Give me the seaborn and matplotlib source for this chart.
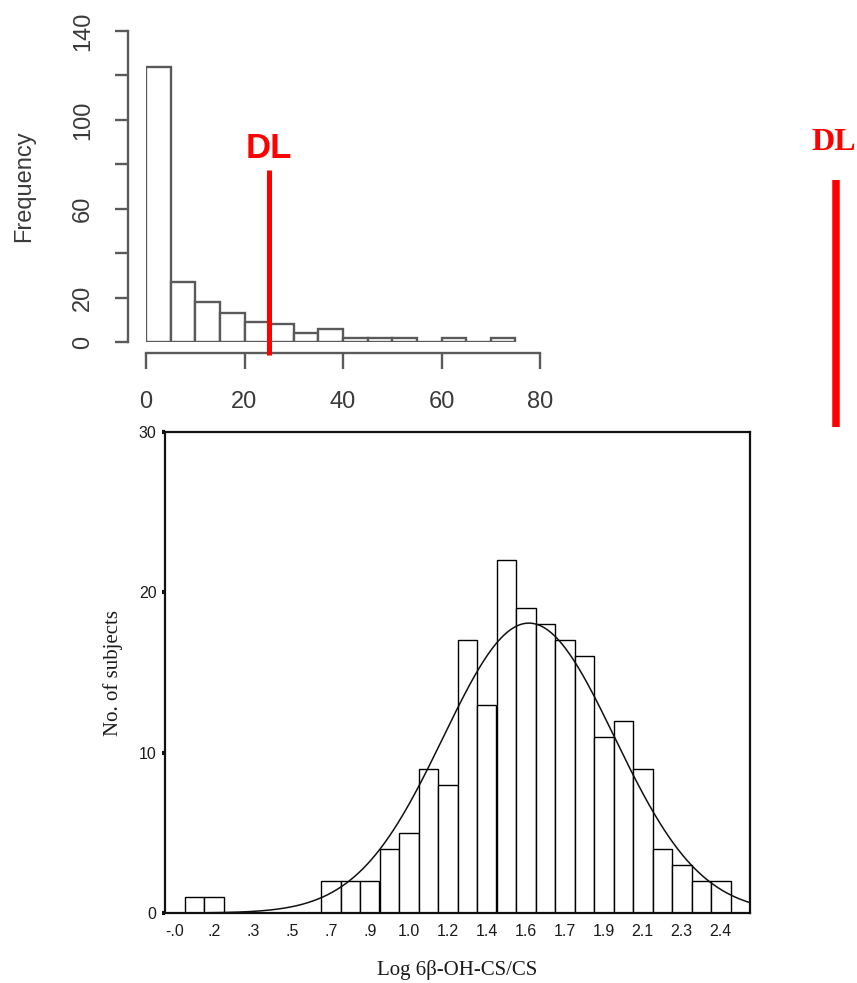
import numpy as np
import pandas as pd
import matplotlib
matplotlib.use("Agg")
import matplotlib.pyplot as plt
import seaborn as sns

# ---------------- data ----------------
# Top histogram (R style)
top_bin_edges = [0, 5, 10, 15, 20, 25, 30, 35, 40, 45, 50, 55, 60, 65, 70, 75]
top_counts = [124, 27, 18, 13, 9, 8, 4, 6, 2, 2, 2, 0, 2, 0, 2]
top_xticks = [0, 20, 40, 60, 80]
top_yticks = [0, 20, 40, 60, 80, 100, 120, 140]
top_ytick_labels = ["0", "20", "", "60", "", "100", "", "140"]
dl_value = 25
dl_line_span = [-6, 77.5]

# Bottom histogram (SPSS style)
bin_start = -0.0535
bin_width = 0.087
bottom_counts = [0, 1, 1, 0, 0, 0, 0, 0, 2, 2, 2, 4, 5, 9, 8, 17, 13, 22, 19, 18,
                 17, 16, 11, 12, 9, 4, 3, 2, 2, 0]
bottom_xtick_labels = ["-.0", ".2", ".3", ".5", ".7", ".9", "1.0", "1.2", "1.4",
                       "1.6", "1.7", "1.9", "2.1", "2.3", "2.4"]
bottom_yticks = [0, 10, 20, 30]
fit_mean = 1.57
fit_sd = 0.382

# ---------------- figure ----------------
W, H = 857, 983
fig = plt.figure(figsize=(W / 100, H / 100), dpi=100)


def px_rect(l, t, r, b):
    return [l / W, 1 - b / H, (r - l) / W, (b - t) / H]


PT = 72 / 100  # points per pixel

# ---------- top chart ----------
top_edges = np.array(top_bin_edges, dtype=float)
top_centers = (top_edges[:-1] + top_edges[1:]) / 2
top_df = pd.DataFrame({"x": top_centers, "w": top_counts})
gray_line = "#5a5a5a"
gray_text = "#3a3a3a"

ax1 = fig.add_axes(px_rect(146, 31, 540, 342))
sns.histplot(data=top_df, x="x", weights="w", bins=list(top_bin_edges), ax=ax1,
             color="white", edgecolor=gray_line, linewidth=1.7, alpha=1)
ax1.set_xlim(0, 80)
ax1.set_ylim(0, 140)
for s in ["top", "right"]:
    ax1.spines[s].set_visible(False)
ax1.spines["left"].set_position(("outward", 18 * PT))
ax1.spines["left"].set_bounds(0, 140)
ax1.spines["bottom"].set_position(("outward", 11 * PT))
ax1.spines["bottom"].set_bounds(0, 80)
for s in ["left", "bottom"]:
    ax1.spines[s].set_color(gray_line)
    ax1.spines[s].set_linewidth(1.7)
ax1.set_xticks(top_xticks)
ax1.set_xticklabels([str(v) for v in top_xticks], fontsize=17, color=gray_text,
                    family="Liberation Sans")
ax1.set_yticks(top_yticks)
ax1.set_yticklabels(top_ytick_labels, fontsize=17, color=gray_text, rotation=90,
                    va="center", family="Liberation Sans")
ax1.tick_params(axis="x", length=16 * PT, width=1.7, color=gray_line, pad=16)
ax1.tick_params(axis="y", length=13 * PT, width=1.7, color=gray_line, pad=15)
ax1.set_xlabel("")
ax1.set_ylabel("")
ax1.text((24 - 146) / 394, 0.5, "Frequency", transform=ax1.transAxes, rotation=90,
         ha="center", va="center", fontsize=17, color=gray_text,
         family="Liberation Sans")

ax1.plot([dl_value, dl_value], dl_line_span, color="#ff0000", lw=3.6,
         solid_capstyle="butt", clip_on=False, zorder=5)
ax1.text(dl_value, (342 - 148) / (311 / 140), "DL", ha="center", va="center",
         fontsize=25, fontweight="bold", color="#ff0000", family="Liberation Sans")

# ---------- bottom chart ----------
counts = np.array(bottom_counts, dtype=float)
edges = bin_start + bin_width * np.arange(len(counts) + 1)
centers = (edges[:-1] + edges[1:]) / 2
n_total = counts.sum()
bottom_df = pd.DataFrame({"x": centers, "w": counts})

ax2 = fig.add_axes(px_rect(165, 432, 750, 913))
sns.histplot(data=bottom_df, x="x", weights="w", bins=list(edges), ax=ax2,
             color="white", edgecolor="black", linewidth=1.0, alpha=1)
curve_x = np.linspace(edges[0], edges[-1], 400)
curve_y = n_total * bin_width / (fit_sd * np.sqrt(2 * np.pi)) * \
    np.exp(-0.5 * ((curve_x - fit_mean) / fit_sd) ** 2)
sns.lineplot(x=curve_x, y=curve_y, ax=ax2, color="#111111", linewidth=1.1)
ax2.set_xlim(edges[0], edges[-1])
ax2.set_ylim(0, 30)
for s in ax2.spines.values():
    s.set_visible(True)
    s.set_color("#111111")
    s.set_linewidth(1.6)
ax2.set_xticks(centers[::2])
ax2.set_xticklabels(bottom_xtick_labels, fontsize=11.5, color="#1a1a1a",
                    family="Liberation Sans")
ax2.set_yticks(bottom_yticks)
ax2.set_yticklabels([str(v) for v in bottom_yticks], fontsize=11.5,
                    color="#1a1a1a", family="Liberation Sans")
ax2.tick_params(axis="x", length=0, pad=8)
ax2.tick_params(axis="y", length=3 * PT, width=3, color="#111111", pad=4)
ax2.set_xlabel("")
ax2.set_ylabel("")
ax2.text(0.5, (913 - 970) / 481, "Log 6β-OH-CS/CS", transform=ax2.transAxes,
         ha="center", va="center", fontsize=15, family="Liberation Serif",
         color="#1a1a1a")
ax2.text((113 - 165) / 585, 0.5, "No. of subjects", transform=ax2.transAxes,
         ha="center", va="center", rotation=90, fontsize=15,
         family="Liberation Serif", color="#1a1a1a")

# ---------- right DL marker ----------
ax3 = fig.add_axes(px_rect(800, 120, 857, 440))
ax3.axis("off")
ax3.set_xlim(0, 1)
ax3.set_ylim(0, 1)
ax3.text((834 - 800) / 57, 1 - (143 - 120) / 320, "DL", ha="center", va="center",
         fontsize=23, fontweight="bold", color="#ff0000", family="Liberation Serif")
ax3.axvline((836 - 800) / 57, ymin=1 - (180 - 120) / 320, ymax=1 - (427 - 120) / 320,
            color="#ff0000", lw=5.4, solid_capstyle="butt")

fig.savefig("out.png", dpi=100)
